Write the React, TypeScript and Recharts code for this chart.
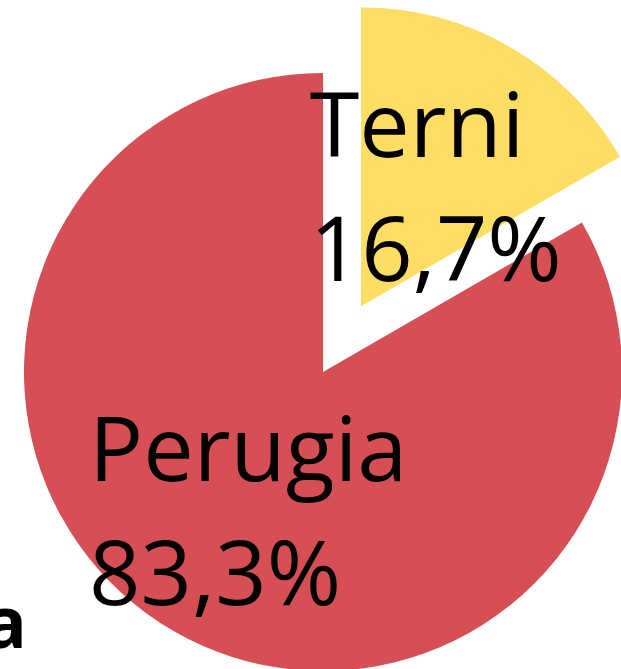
import { PieChart, Pie, Cell } from "recharts";

const provinces = ["Perugia", "Terni"];
const counts = [5, 1];
const colors = ["#D64F55", "#FEDD64"];
const explodedProvince = "Terni";

const data = provinces.map((name, i) => ({ name, value: counts[i] }));

const RAD = Math.PI / 180;
const FONT = "'Open Sans', 'Noto Sans', sans-serif";
const LABEL_SIZE = 90;
const EXPLODE = 76;

let ctx: CanvasRenderingContext2D | null = null;
function measure(text: string) {
  if (!ctx) ctx = document.createElement("canvas").getContext("2d");
  if (!ctx) return text.length * LABEL_SIZE * 0.5;
  ctx.font = `${LABEL_SIZE}px ${FONT}`;
  return ctx.measureText(text).width;
}

function offsetFor(name: string, midAngle: number) {
  if (name !== explodedProvince) return { dx: 0, dy: 0 };
  return { dx: EXPLODE * Math.cos(-midAngle * RAD), dy: EXPLODE * Math.sin(-midAngle * RAD) };
}

const renderLabel = (props: any) => {
  const { cx, cy, midAngle, outerRadius, percent, name } = props;
  const { dx, dy } = offsetFor(name, midAngle);
  const r = outerRadius * 0.5;
  const ax = cx + dx + r * Math.cos(-midAngle * RAD);
  const ay = cy + dy + r * Math.sin(-midAngle * RAD);
  const pct = (percent * 100).toFixed(1).replace(".", ",") + "%";
  const w = Math.max(measure(name), measure(pct));
  const left = ax - w / 2;
  return (
    <text x={left} y={ay - 20} fill="#000" fontSize={LABEL_SIZE} fontFamily={FONT} textAnchor="start">
      <tspan x={left} y={ay - 20}>{name}</tspan>
      <tspan x={left} y={ay + 104}>{pct}</tspan>
    </text>
  );
};

export default function App() {
  return (
    <div style={{ position: "absolute", left: 0, top: 0, width: 621, height: 669, overflow: "hidden", background: "#fff" }}>
      <PieChart width={621} height={669} margin={{ top: 0, right: 0, bottom: 0, left: 0 }}>
        <Pie
          data={data}
          dataKey="value"
          nameKey="name"
          cx={323}
          cy={372}
          outerRadius={299}
          startAngle={90}
          endAngle={450}
          stroke="none"
          label={renderLabel}
          labelLine={false}
          isAnimationActive={false}
        >
          {data.map((entry, i) => {
            const start = 90 + (360 * counts.slice(0, i).reduce((a, b) => a + b, 0)) / counts.reduce((a, b) => a + b, 0);
            const mid = start + (180 * entry.value) / counts.reduce((a, b) => a + b, 0);
            const { dx, dy } = offsetFor(entry.name, mid);
            return <Cell key={entry.name} fill={colors[i]} transform={`translate(${dx},${dy})`} />;
          })}
        </Pie>
      </PieChart>
      <svg width={621} height={669} style={{ position: "absolute", left: 0, top: 0, pointerEvents: "none" }}>
        <text x={27} y={648} textAnchor="end" fontSize={72} fontWeight="bold" fontFamily={FONT} fill="#000">a</text>
      </svg>
    </div>
  );
}
